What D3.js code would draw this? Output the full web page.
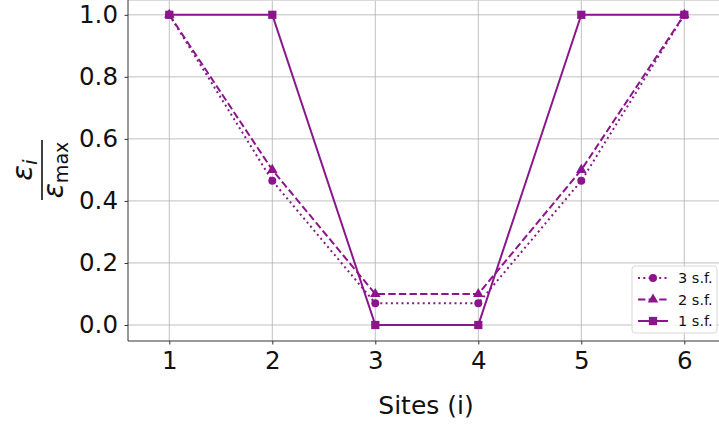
<!DOCTYPE html>
<html>
<head>
<meta charset="utf-8">
<script src="https://cdn.jsdelivr.net/npm/d3@7"></script>
<style>
  body { margin: 0; background: white; }
  text { font-family: "DejaVu Sans", sans-serif; }
</style>
</head>
<body>
<div id="chart"></div>
<script>
// data
const sites = [1, 2, 3, 4, 5, 6];
const sf3 = [1.0, 0.465, 0.07, 0.07, 0.465, 1.0];
const sf2 = [1.0, 0.5, 0.1, 0.1, 0.5, 1.0];
const sf1 = [1.0, 1.0, 0.0, 0.0, 1.0, 1.0];
const xTicks = [1, 2, 3, 4, 5, 6];
const yTicks = [0.0, 0.2, 0.4, 0.6, 0.8, 1.0];

const W = 719, H = 425;
const color = "#8b168b";

const svg = d3.select("#chart").append("svg")
    .attr("width", W)
    .attr("height", H);

// plot area (cropped on top/right like the original figure)
const left = 128, bottom = 341;
const x = d3.scaleLinear().domain([1, 6]).range([169.3, 684.3]);
const y = d3.scaleLinear().domain([0, 1]).range([325, 14.8]);

// grid
const grid = svg.append("g");
grid.selectAll(".gx").data(xTicks).enter().append("line")
    .attr("x1", d => x(d)).attr("x2", d => x(d))
    .attr("y1", 0).attr("y2", bottom)
    .attr("stroke", "#b0b0b0").attr("stroke-width", 0.8);
grid.selectAll(".gy").data(yTicks).enter().append("line")
    .attr("x1", left).attr("x2", W)
    .attr("y1", d => y(d)).attr("y2", d => y(d))
    .attr("stroke", "#b0b0b0").attr("stroke-width", 0.8);
grid.append("line")
    .attr("x1", left).attr("x2", W).attr("y1", 0.5).attr("y2", 0.5)
    .attr("stroke", "#d0d0d0").attr("stroke-width", 0.8);

// axes
const xAxis = svg.append("g")
    .attr("transform", `translate(0,${bottom})`)
    .call(d3.axisBottom(x).tickValues(xTicks).tickSize(3.5).tickPadding(7.5).tickFormat(d3.format("d")));
xAxis.select(".domain").attr("d", `M${left},0H${W}`).attr("stroke", "#333").attr("stroke-width", 1);
xAxis.selectAll(".tick line").attr("stroke", "#333");
xAxis.selectAll("text").attr("font-size", 24.5).attr("fill", "#111")
    .attr("font-family", "DejaVu Sans");

const yAxis = svg.append("g")
    .attr("transform", `translate(${left},0)`)
    .call(d3.axisLeft(y).tickValues(yTicks).tickSize(3.5).tickPadding(6.5).tickFormat(d3.format(".1f")));
yAxis.select(".domain").attr("d", `M0,0V${bottom}`).attr("stroke", "#333").attr("stroke-width", 1);
yAxis.selectAll(".tick line").attr("stroke", "#333");
yAxis.selectAll("text").attr("font-size", 24.5).attr("fill", "#111")
    .attr("font-family", "DejaVu Sans");

// labels
svg.append("text")
    .attr("x", 426).attr("y", 414)
    .attr("text-anchor", "middle")
    .attr("font-size", 25).attr("fill", "#111")
    .text("Sites (i)");

const yl = svg.append("g").attr("transform", "translate(42,170) rotate(-90)");
yl.append("line").attr("x1", -30).attr("x2", 30).attr("y1", 0).attr("y2", 0)
    .attr("stroke", "#111").attr("stroke-width", 1.6);
const num = yl.append("text").attr("x", 0).attr("y", -10).attr("text-anchor", "middle")
    .attr("font-size", 29).attr("font-style", "italic").attr("fill", "#111");
num.append("tspan").text("ε");
num.append("tspan").attr("font-size", 20).attr("dy", 5).text("i");
const den = yl.append("text").attr("x", 0).attr("y", 21).attr("text-anchor", "middle")
    .attr("font-size", 28).attr("fill", "#111");
den.append("tspan").attr("font-style", "italic").text("ε");
den.append("tspan").attr("font-size", 19).attr("dy", 5).text("max");

// series
const series = [
    { name: "3 s.f.", values: sf3, dash: "2,3.3", marker: "circle" },
    { name: "2 s.f.", values: sf2, dash: "7.4,3.2", marker: "triangle" },
    { name: "1 s.f.", values: sf1, dash: null, marker: "square" }
];

const line = d3.line().x((d, i) => x(sites[i])).y(d => y(d));
const symbols = {
    circle: d3.symbol().type(d3.symbolCircle).size(50),
    triangle: d3.symbol().type(d3.symbolTriangle).size(48),
    square: d3.symbol().type(d3.symbolSquare).size(68)
};

series.forEach(s => {
    svg.append("path")
        .datum(s.values)
        .attr("d", line)
        .attr("fill", "none")
        .attr("stroke", color)
        .attr("stroke-width", 2)
        .attr("stroke-dasharray", s.dash);
    svg.selectAll(null).data(s.values).enter().append("path")
        .attr("d", symbols[s.marker])
        .attr("transform", (d, i) => `translate(${x(sites[i])},${y(d)})`)
        .attr("fill", color);
});

// legend
const lg = svg.append("g").attr("transform", "translate(632,266)");
lg.append("rect")
    .attr("width", 85).attr("height", 67).attr("rx", 3)
    .attr("fill", "white").attr("fill-opacity", 0.8)
    .attr("stroke", "#d8d8d8").attr("stroke-width", 1);
series.forEach((s, i) => {
    const ly = 12 + i * 21.5;
    lg.append("line")
        .attr("x1", 6).attr("x2", 36).attr("y1", ly).attr("y2", ly)
        .attr("stroke", color).attr("stroke-width", 2)
        .attr("stroke-dasharray", s.dash);
    lg.append("path")
        .attr("d", symbols[s.marker])
        .attr("transform", `translate(21,${ly})`)
        .attr("fill", color);
    lg.append("text")
        .attr("x", 46).attr("y", ly + 5)
        .attr("font-size", 14.5).attr("fill", "#111")
        .text(s.name);
});
</script>
</body>
</html>
